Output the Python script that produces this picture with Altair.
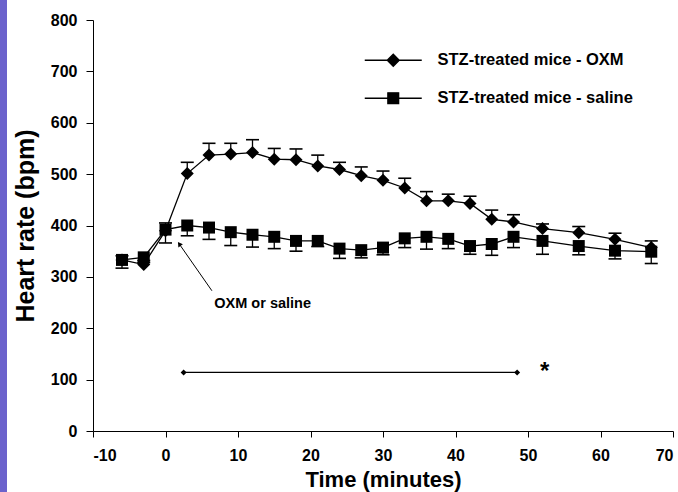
import altair as alt
import pandas as pd

# Sampling times (minutes) relative to injection
minutes = [-6, -3, 0, 3, 6, 9, 12, 15, 18, 21, 24, 27, 30, 33, 36, 39, 42, 45, 48, 52, 57, 62, 67]

# STZ-treated mice given OXM: mean heart rate and SEM (bpm)
oxm_hr = [333, 324, 390, 501, 537, 539, 542, 529, 528, 516, 509, 497, 488, 473, 448, 448, 443, 412, 407, 394, 386, 373, 357]
oxm_sem = [8, 8, 15, 22, 23, 21, 25, 21, 21, 21, 14, 17, 18, 19, 18, 13, 14, 18, 14, 9, 12, 12, 13]

# STZ-treated mice given saline: mean heart rate and SEM (bpm)
saline_hr = [333, 338, 392, 400, 396, 387, 382, 378, 370, 370, 355, 352, 357, 375, 378, 374, 360, 364, 378, 370, 360, 351, 349]
saline_sem = [16, 10, 26, 20, 23, 26, 24, 23, 20, 11, 19, 15, 14, 18, 24, 19, 16, 22, 21, 26, 17, 16, 23]

series_names = ["STZ-treated mice - OXM", "STZ-treated mice - saline"]

# Significance bar and marker
sig_start, sig_end, sig_level = 2.5, 48.5, 114
star_x, star_y = 52.3, 114

# Injection annotation
note_text = "OXM or saline"
note_x, note_y = 13.4, 248
arrow_tail = (6.4, 273)
arrow_head = (1.9, 364)

FONT = "Liberation Sans"

x_axis = alt.Axis(values=list(range(-10, 71, 10)), title="Time (minutes)", grid=False,
                  labelExpr="'' + datum.value",
                  labelFontSize=16, labelFontWeight="bold", labelFont=FONT, labelColor="black",
                  titleFontSize=22, titleFontWeight="bold", titleFont=FONT, titleColor="black",
                  tickSize=6, tickColor="black", domainColor="black", labelPadding=10, titlePadding=6)
y_axis = alt.Axis(values=list(range(0, 801, 100)), title="Heart rate (bpm)", grid=False,
                  labelFontSize=16, labelFontWeight="bold", labelFont=FONT, labelColor="black",
                  titleFontSize=25, titleFontWeight="bold", titleFont=FONT, titleColor="black",
                  tickSize=7, tickColor="black", domainColor="black", labelPadding=9, titlePadding=12)

X = alt.X("t:Q", scale=alt.Scale(domain=[-10, 70], nice=False, zero=False), axis=x_axis)
Y = alt.Y("hr:Q", scale=alt.Scale(domain=[0, 800], nice=False), axis=y_axis)

oxm = pd.DataFrame({
    "t": minutes, "hr": oxm_hr,
    "lo": oxm_hr, "hi": [h + e for h, e in zip(oxm_hr, oxm_sem)],
})
oxm["cap"] = oxm["hi"]
saline = pd.DataFrame({
    "t": minutes, "hr": saline_hr,
    "lo": [h - e for h, e in zip(saline_hr, saline_sem)], "hi": saline_hr,
})
saline["cap"] = saline["lo"]


def series_layers(df, shape, size):
    base = alt.Chart(df)
    line = base.mark_line(color="black", strokeWidth=1.3).encode(x=X, y=Y)
    stem = base.mark_rule(color="black", strokeWidth=1.3).encode(
        x=alt.X("t:Q"), y=alt.Y("lo:Q"), y2="hi:Q")
    cap = base.mark_rule(color="black", strokeWidth=1.6, xOffset=-6.5, x2Offset=6.5).encode(
        x=alt.X("t:Q"), x2="t:Q", y=alt.Y("cap:Q"))
    pts = base.mark_point(shape=shape, size=size, filled=True, color="black", opacity=1).encode(x=X, y=Y)
    return [line, stem, cap, pts]


# Legend: line-through-marker symbols drawn from custom paths
legend_paths = [
    "M-4.75,0L-1,0M1,0L4.75,0M-1,0L0,-1L1,0L0,1Z",
    "M-4.75,0L-0.9,0M0.9,0L4.75,0M-0.9,-0.9L0.9,-0.9L0.9,0.9L-0.9,0.9Z",
]
legend_layer = alt.Chart(pd.DataFrame({"series": series_names})).transform_filter("false").mark_point(
    filled=True, fill="black", stroke="black", strokeWidth=1.3, opacity=1, size=144
).encode(
    shape=alt.Shape("series:N", scale=alt.Scale(domain=series_names, range=legend_paths),
                    legend=alt.Legend(title=None, orient="none", legendX=292, legendY=32,
                                      labelFont=FONT, labelFontSize=16.5, labelFontWeight="bold",
                                      labelColor="black", labelOffset=36, rowPadding=21,
                                      labelLimit=400,
                                      symbolStrokeWidth=1.3, symbolSize=144, padding=0))
)

# Significance bar
sig_df = pd.DataFrame({"t": [sig_start, sig_end], "hr": [sig_level, sig_level]})
sig_line = alt.Chart(sig_df).mark_line(color="black", strokeWidth=1.2).encode(x=X, y=Y)
sig_pts = alt.Chart(sig_df).mark_point(shape="diamond", size=36, filled=True, color="black", opacity=1).encode(x=X, y=Y)
star = alt.Chart(pd.DataFrame({"t": [star_x], "hr": [star_y], "s": ["*"]})).mark_text(
    font=FONT, fontSize=24, fontWeight="bold", color="black", baseline="middle"
).encode(x=X, y=Y, text="s:N")

# Injection arrow and label
arrow_df = pd.DataFrame({"t": [arrow_tail[0]], "hr": [arrow_tail[1]],
                         "t2": [arrow_head[0]], "hr2": [arrow_head[1]]})
arrow_line = alt.Chart(arrow_df).mark_rule(color="black", strokeWidth=1).encode(
    x=X, y=Y, x2="t2:Q", y2="hr2:Q")
arrow_tip = alt.Chart(pd.DataFrame({"t": [arrow_head[0]], "hr": [arrow_head[1]]})).mark_point(
    shape="triangle-up", size=30, filled=True, color="black", opacity=1, angle=325
).encode(x=X, y=Y)
note = alt.Chart(pd.DataFrame({"t": [note_x], "hr": [note_y], "s": [note_text]})).mark_text(
    font=FONT, fontSize=14.5, fontWeight="bold", color="black", baseline="middle", align="center"
).encode(x=X, y=Y, text="s:N")

# Coloured page edge strip
strip = alt.Chart(pd.DataFrame({"a": [0]})).mark_rect(color="#6B62CC").encode(
    x=alt.value(-93), x2=alt.value(-86), y=alt.value(-20), y2=alt.value(472))

layers = ([strip, legend_layer, sig_line, sig_pts, star, arrow_line, arrow_tip, note]
          + series_layers(oxm, "diamond", 169)
          + series_layers(saline, "square", 144))

chart = alt.layer(*layers).properties(
    width=580, height=411,
    padding={"left": 93, "top": 20, "right": 5, "bottom": 61},
    autosize=alt.AutoSizeParams(type="none"),
    background="white",
).configure_view(stroke=None)

chart.save("out.html", embed_options={"renderer": "svg", "actions": False})
